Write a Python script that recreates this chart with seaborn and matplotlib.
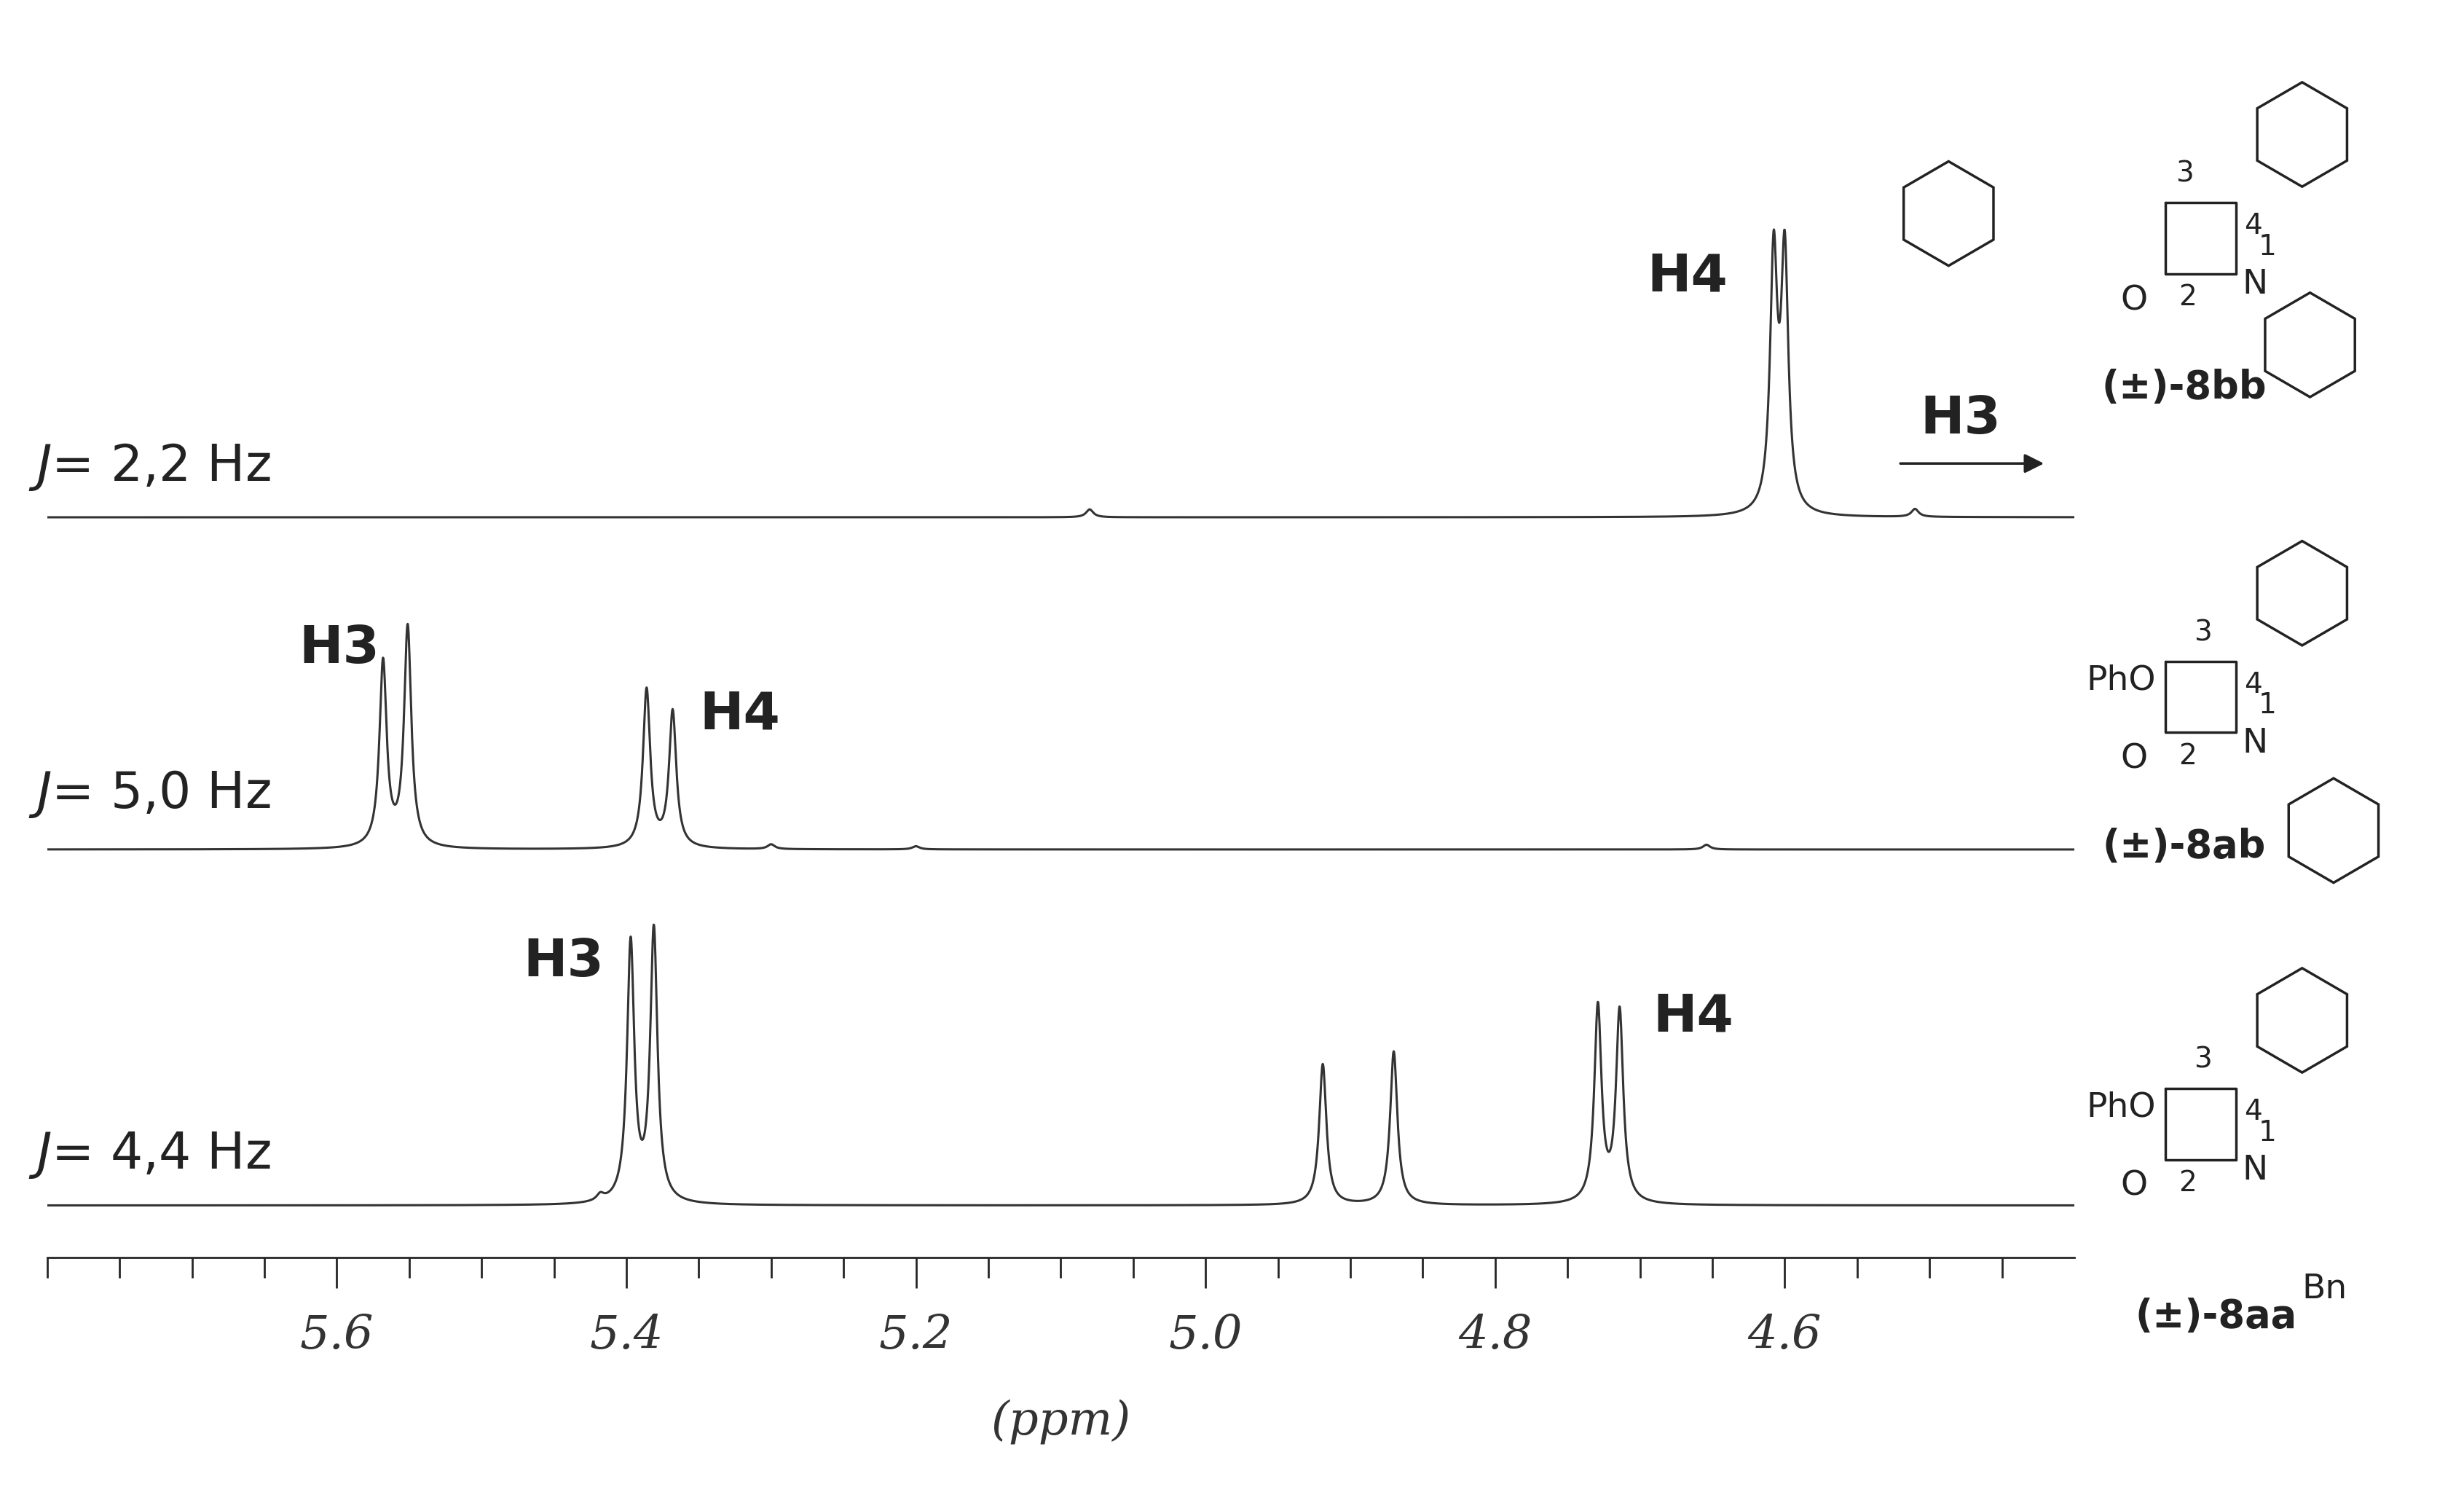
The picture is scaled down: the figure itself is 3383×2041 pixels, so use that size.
import numpy as np
import matplotlib.pyplot as plt
import seaborn as sns
from matplotlib.patches import RegularPolygon

sns.set_style("white")

# peak tables per trace: position (ppm), height (arb.)
ppm_bb = [4.6076, 4.6000, 5.08, 4.51]
h_bb = [160, 160, 5, 5]
ppm_ab = [5.568, 5.551, 5.386, 5.368, 5.30, 5.20, 4.654]
h_ab = [117, 139, 100, 86, 3, 2, 3]
ppm_aa = [5.418, 5.397, 5.381, 4.919, 4.870, 4.729, 4.714]
h_aa = [4, 164, 172, 89, 97, 124, 121]

baselines = [468, 258, 33]
labels = ["2,2", "5,0", "4,4"]
width = 0.003

x = np.linspace(5.8, 4.40, 6000)

def spectrum(pos, hts):
    y = np.zeros_like(x)
    for p, h in zip(pos, hts):
        y += h / (1 + ((x - p) / width) ** 2)
    return y

fig = plt.figure(figsize=(33.83, 20.41), dpi=100)
ax = fig.add_axes([30 / 1568, 1 - 795 / 940, 1290 / 1568, 795 / 940])
for (pos, hts), base in zip([(ppm_bb, h_bb), (ppm_ab, h_ab), (ppm_aa, h_aa)], baselines):
    sns.lineplot(x=x, y=spectrum(pos, hts) + base, ax=ax, color="#333333", lw=2.2, sort=False)
ax.set_xlim(5.8, 4.40)
ax.set_ylim(0, 795)
for s in ["top", "right", "left"]:
    ax.spines[s].set_visible(False)
ax.spines["bottom"].set_linewidth(2)
ax.set_yticks([])
ax.set_xticks(np.arange(5.6, 4.5, -0.2))
ax.set_xticks(np.arange(5.8, 4.40, -0.05), minor=True)
ax.set_xticklabels([f"{v:.1f}" for v in np.arange(5.6, 4.5, -0.2)],
                   fontfamily="DejaVu Serif", fontstyle="italic", fontsize=46, color="#333333")
ax.tick_params(axis="x", which="both", direction="out", length=30, width=2, pad=25, bottom=True)
ax.tick_params(axis="x", which="minor", length=20)
ax.set_xlabel("(ppm)", fontfamily="DejaVu Serif", fontstyle="italic", fontsize=46,
              color="#333333", labelpad=40)

# overlay in reference pixel coordinates
ov = fig.add_axes([0, 0, 1, 1])
ov.set_xlim(0, 1568)
ov.set_ylim(940, 0)
ov.axis("off")
kw = dict(fontsize=50, color="#222222")
for lab, yp in zip(labels, [295, 502, 730]):
    ov.text(18, yp, "$J$= " + lab + " Hz", va="center", **kw)
bk = dict(fontsize=52, fontweight="bold", color="#222222", va="center")
ov.text(1048, 175, "H4", **bk)
ov.text(1222, 265, "H3", **bk)
ov.annotate("", xy=(1302, 293), xytext=(1208, 293),
            arrowprops=dict(arrowstyle="-|>", color="#222222", lw=2.5, mutation_scale=40))
ov.text(190, 410, "H3", **bk)
ov.text(445, 452, "H4", **bk)
ov.text(333, 608, "H3", **bk)
ov.text(1052, 643, "H4", **bk)

# simplified structures
def ring(cx, cy, r=33):
    ov.add_patch(RegularPolygon((cx, cy), 6, radius=r, orientation=0, fill=False, lw=2.5, ec="#222222"))

def lactam(x0, y0):
    ov.plot([x0, x0 + 45, x0 + 45, x0, x0], [y0, y0, y0 + 45, y0 + 45, y0], color="#222222", lw=2.5)

sk = dict(fontsize=34, color="#222222", va="center", ha="center")
nk = dict(fontsize=28, color="#222222", va="center", ha="center")
for y0, lab in [(0, "(±)-8bb"), (290, "(±)-8ab"), (560, "(±)-8aa")]:
    lactam(1378, y0 + 128)
    ring(1465, y0 + 85)
    ov.text(1435, y0 + 180, "N", **sk)
    ov.text(1358, y0 + 190, "O", **sk)
    ov.text(1392, y0 + 188, "2", **nk)
    ov.text(1434, y0 + 143, "4", **nk)
    ov.text(1443, y0 + 156, "1", **nk)
    ov.text(1390 if y0 == 0 else 1402, y0 + 110, "3", **nk)
    ov.text(1390 if y0 != 560 else 1410, y0 + 245 if y0 != 560 else y0 + 272, lab,
            fontsize=38, fontweight="bold", color="#222222", va="center", ha="center")
ring(1240, 135)
ring(1470, 218)
ring(1485, 525)
ov.text(1372, 430, "PhO", fontsize=34, color="#222222", va="center", ha="right")
ov.text(1372, 700, "PhO", fontsize=34, color="#222222", va="center", ha="right")
ov.text(1465, 815, "Bn", fontsize=34, color="#222222", va="center", ha="left")

fig.savefig("out.png", dpi=100)
